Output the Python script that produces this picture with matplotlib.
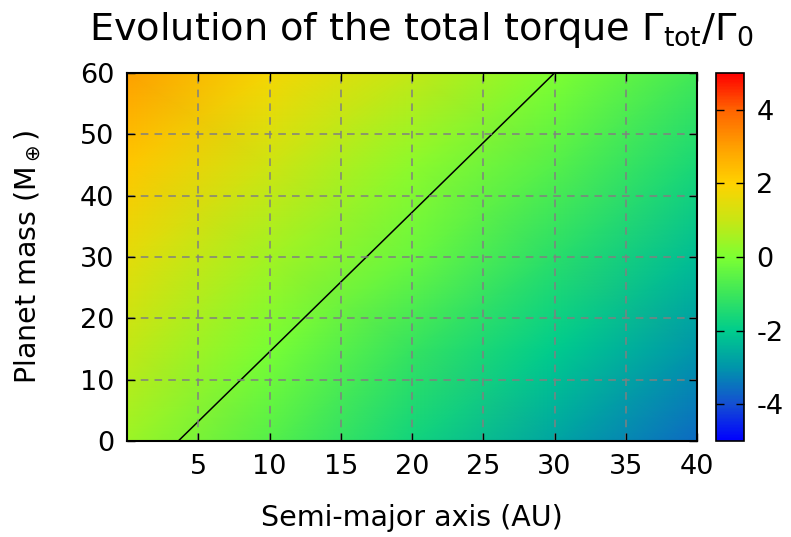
import numpy as np
import matplotlib
matplotlib.use("Agg")
import matplotlib.pyplot as plt
from matplotlib.colors import LinearSegmentedColormap

# Data
semi_major_axis = [0, 10, 20, 30, 40]          # AU
planet_mass = [0, 15, 30, 45, 60]              # Earth masses
torque = [
    [0.4, -0.6, -1.7, -2.7, -3.6],   # M = 0
    [0.9, -0.05, -1.1, -2.0, -3.0],  # M = 15
    [1.5, 0.5, -0.3, -1.3, -2.3],    # M = 30
    [2.2, 1.1, 0.2, -0.6, -1.6],     # M = 45
    [3.0, 1.8, 0.9, 0.0, -0.9],      # M = 60
]
zero_line_a = [3.6, 30.0]
zero_line_m = [0.0, 60.0]
x_ticks = [5, 10, 15, 20, 25, 30, 35, 40]
y_ticks = [0, 10, 20, 30, 40, 50, 60]
cb_ticks = [-4, -2, 0, 2, 4]

cmap_levels = [-5, -4, -3, -2, -1, 0, 1, 2, 3, 4, 5]
cmap_colors = [(0, 0, 255), (20, 80, 210), (0, 150, 170), (0, 205, 140), (60, 230, 90),
               (125, 255, 50), (200, 230, 20), (255, 210, 0), (255, 160, 0), (255, 100, 0), (255, 0, 0)]
cmap = LinearSegmentedColormap.from_list(
    "torque", [((l + 5) / 10, tuple(c / 255 for c in col)) for l, col in zip(cmap_levels, cmap_colors)])

fig = plt.figure(figsize=(7.91, 5.37), dpi=100)
W, H = 791, 537
ax = fig.add_axes([127 / W, 1 - 441 / H, (697 - 127) / W, (441 - 73) / H])
cax = fig.add_axes([716 / W, 1 - 441 / H, (744 - 716) / W, (441 - 73) / H])

X, Y = np.meshgrid(semi_major_axis, planet_mass)
im = ax.pcolormesh(X, Y, np.array(torque), shading="gouraud", cmap=cmap, vmin=-5, vmax=5)
ax.plot(zero_line_a, zero_line_m, color="black", lw=1.1)
ax.set_xlim(0, 40)
ax.set_ylim(0, 60)
ax.set_xticks(x_ticks)
ax.set_yticks(y_ticks)
ax.set_axisbelow(False)
ax.grid(True, color="gray", linestyle=(0, (5, 4)), lw=1.1)
ax.tick_params(direction="in", top=True, right=True, length=6, width=1, labelsize=19.5, pad=9)
for s in ax.spines.values():
    s.set_linewidth(1.5)
    s.set_zorder(5)
ax.set_xlabel("Semi-major axis (AU)", fontsize=20.5)
ax.xaxis.set_label_coords(0.5, -0.172)
ax.set_ylabel(r"Planet mass (M$_\oplus$)", fontsize=20.5)
ax.yaxis.set_label_coords(-0.148, 0.5)
fig.text(0.533, 0.945, r"Evolution of the total torque $\Gamma_{\rm tot}/\Gamma_0$",
         fontsize=27.5, ha="center", va="center")

cb = fig.colorbar(im, cax=cax)
cb.set_ticks(cb_ticks)
cb.set_ticklabels([str(t) for t in cb_ticks])
cax.tick_params(direction="in", left=True, right=True, length=6, width=1, labelsize=19.5, pad=9)
cb.outline.set_linewidth(1.2)

fig.savefig("out.png", dpi=100)
